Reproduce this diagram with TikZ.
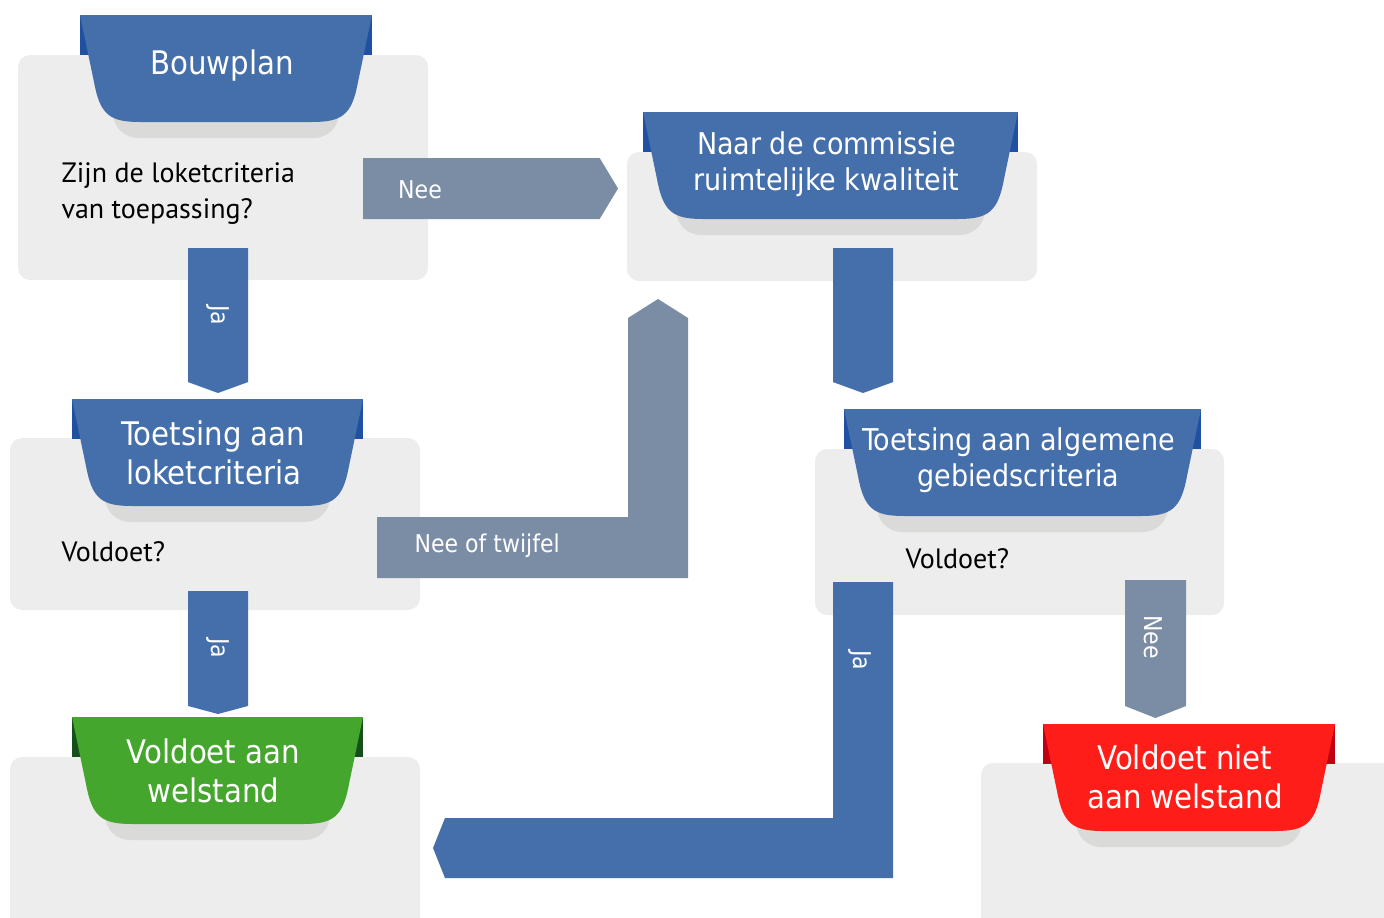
\documentclass[tikz,border=0pt]{standalone}
\usepackage{fontspec}
\setmainfont{PT Sans}
\newfontfamily\bannerfont{DejaVuSansCondensed.ttf}
\usepackage{xcolor}
\usetikzlibrary{shapes.arrows}

\definecolor{flowblue}{HTML}{446FAB}
\definecolor{tabblue}{HTML}{1F50A2}
\definecolor{flowgrey}{HTML}{7B8CA5}
\definecolor{panelgrey}{HTML}{EDEDED}
\definecolor{shadowgrey}{HTML}{DADAD8}
\definecolor{okgreen}{HTML}{44A62D}
\definecolor{tabgreen}{HTML}{174F1C}
\definecolor{notred}{HTML}{FF1D19}
\definecolor{tabred}{HTML}{C00012}

\tikzset{
	panel/.style={fill=panelgrey, rounded corners=12pt},
	bannertext/.style={text=white, align=center},
	question/.style={anchor=west, align=left,
			font=\fontsize{28}{36}\selectfont},
	blockarrow/.style={single arrow, single arrow head extend=0pt, anchor=tail,
			minimum width=60pt, inner sep=0pt, outer sep=0pt, text=white,
			font=\bannerfont\fontsize{24.5}{28}\selectfont},
	arrowlabel/.style={text=white, font=\bannerfont\fontsize{24.5}{28}\selectfont}
}

% banner: [font size], name, left, right, top, body colour, tab colour, y shift, text
\newcommand{\banner}[9][32.5]{%
	\fill[shadowgrey, rounded corners=25pt] ({#3+33},{#5+60}) rectangle ({#4-33},{#5+123});
	\fill[#7] (#3,#5) rectangle (#4,{#5+40});
	\fill[#6] (#3,#5) -- ({#3+14},{#5+67})
		.. controls ({#3+20},{#5+100}) and ({#3+30},{#5+107}) .. ({#3+60},{#5+107})
		-- ({#4-60},{#5+107})
		.. controls ({#4-30},{#5+107}) and ({#4-20},{#5+100}) .. ({#4-14},{#5+67})
		-- (#4,#5) -- cycle;
	\node[bannertext, font=\bannerfont\fontsize{#1}{\the\dimexpr #1pt*6/5\relax}\selectfont]
		(#2) at ({(#3+#4)/2-4},{#5+51+#8}) {#9};
}

\begin{document}
\begin{tikzpicture}[x=1pt, y=-1pt]
		\clip (0,0) rectangle (1384,918);

		% Grey panels
		\fill[panel] (18,55) rectangle (428,280);
		\fill[panel] (627,152) rectangle (1037,281);
		\fill[panel] (10,438) rectangle (420,610);
		\fill[panel] (815,449) rectangle (1224,615);
		\fill[panel] (10,757) rectangle (420,940);
		\fill[panel] (981,763) rectangle (1400,940);

		% Banners
		\banner{bouwplan}{80}{372}{15}{flowblue}{tabblue}{0}{Bouwplan}
		\banner[30]{commissie}{643}{1018}{112}{flowblue}{tabblue}{1.5}{Naar de commissie\\ruimtelijke kwaliteit}
		\banner{loket}{72}{363}{399}{flowblue}{tabblue}{3}{Toetsing aan\\loketcriteria}
		\banner[30]{gebied}{844}{1201}{409}{flowblue}{tabblue}{0}{Toetsing aan algemene\\gebiedscriteria}
		\banner{welstand}{72}{363}{717}{okgreen}{tabgreen}{2.5}{Voldoet aan\\welstand}
		\banner{nietwelstand}{1043}{1335}{724}{notred}{tabred}{2}{Voldoet niet\\aan welstand}

		% Questions
		\node[question] (vraagLoket) at (58,194) {Zijn de loketcriteria\\van toepassing?};
		\node[question] (vraagLoketOk) at (58,552) {Voldoet?};
		\node[question] (vraagGebiedOk) at (902,559) {Voldoet?};

		% Straight arrows
		\node[blockarrow, fill=flowgrey, minimum height=255pt, single arrow tip angle=118,
			minimum width=61pt] (neeCommissie) at (363,188.5) {};
		\node[arrowlabel] (neeLabel) at (420,190) {Nee};
		\node[blockarrow, fill=flowblue, rotate=-90, minimum height=145pt,
			single arrow tip angle=140] (jaLoket) at (218,248) {Ja};
		\node[blockarrow, fill=flowblue, rotate=-90, minimum height=123pt,
			single arrow tip angle=150] (jaWelstand) at (218,591) {Ja};
		\node[blockarrow, fill=flowblue, rotate=-90, minimum height=145pt,
			single arrow tip angle=140] (naarGebied) at (863,248) {};
		\node[blockarrow, fill=flowgrey, rotate=-90, minimum height=138pt,
			single arrow tip angle=137, minimum width=61pt] (neeGebied) at (1155.5,580) {};
		\node[arrowlabel, rotate=-90] (neeGebiedLabel) at (1153,637) {Nee};

		% Bent arrows
		\fill[flowgrey] (377,517) -- (628,517) -- (628,318) -- (658,299) -- (688,318)
			-- (688,578) -- (377,578) -- cycle;
		\node[arrowlabel, anchor=west] (twijfelLabel) at (411,546) {Nee of twijfel};
		\fill[flowblue] (833,582) -- (893,582) -- (893,878) -- (445,878) -- (433,848)
			-- (445,818) -- (833,818) -- cycle;
		\node[arrowlabel, rotate=-90] (jaGebiedLabel) at (860,660) {Ja};
	\end{tikzpicture}
\end{document}
